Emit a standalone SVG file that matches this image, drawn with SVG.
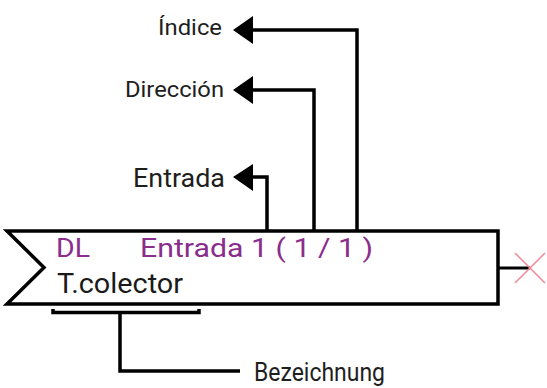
<svg xmlns="http://www.w3.org/2000/svg" width="547" height="388" viewBox="0 0 547 388">
<style>
.ln{fill:none;stroke:#000;stroke-width:3.5;stroke-linejoin:miter}
.lbl{font-family:Roboto,"Liberation Sans",sans-serif;fill:#1e1e1e}
.blk{font-family:Roboto,"Liberation Sans",sans-serif;fill:#1a1a1a}
.pur{font-family:Roboto,"Liberation Sans",sans-serif;fill:#8a2d8c}
.head{fill:#000}
</style>
<rect width="547" height="388" fill="#fff"/>
<g id="block">
<path class="ln" d="M7,231 L498,231 L498,304 L7,304 L44,267.5 Z" stroke-width="3"/>
<text class="pur" x="56" y="257" font-size="25" textLength="34" lengthAdjust="spacingAndGlyphs">DL</text>
<text class="pur" x="140" y="257" font-size="25" textLength="233" lengthAdjust="spacingAndGlyphs">Entrada 1 ( 1 / 1 )</text>
<text class="blk" x="57" y="293" font-size="27" textLength="126" lengthAdjust="spacingAndGlyphs">T.colector</text>
</g>
<g id="output">
<line x1="498" y1="268" x2="530" y2="268" stroke="#000" stroke-width="3"/>
<line x1="515" y1="253" x2="545" y2="283" stroke="#f08a96" stroke-width="1.5"/>
<line x1="545" y1="253" x2="515" y2="283" stroke="#f08a96" stroke-width="1.5"/>
</g>
<g id="label-indice"><text class="lbl" x="158" y="35" font-size="22" textLength="64" lengthAdjust="spacingAndGlyphs">Índice</text></g>
<g id="label-direccion"><text class="lbl" x="125" y="97" font-size="22" textLength="99" lengthAdjust="spacingAndGlyphs">Dirección</text></g>
<g id="label-entrada"><text class="lbl" x="133" y="187" font-size="25" textLength="92" lengthAdjust="spacingAndGlyphs">Entrada</text></g>
<g id="label-bezeichnung"><text class="lbl" x="254" y="381" font-size="25" textLength="131" lengthAdjust="spacingAndGlyphs">Bezeichnung</text></g>
<g id="connectors">
<path class="ln" d="M357,230 L357,30 L250,30"/>
<polygon class="head" points="233,30 253,16 253,44"/>
<path class="ln" d="M314,230 L314,90 L250,90"/>
<polygon class="head" points="233,90 253,76 253,104"/>
<path class="ln" d="M267,230 L267,177 L250,177"/>
<polygon class="head" points="233,177 253,164 253,191"/>
<path class="ln" stroke-width="3" d="M53,309 L53,312.5 L199,312.5 L199,309"/>
<path class="ln" d="M120,312 L120,371 L240,371"/>
</g>
</svg>
